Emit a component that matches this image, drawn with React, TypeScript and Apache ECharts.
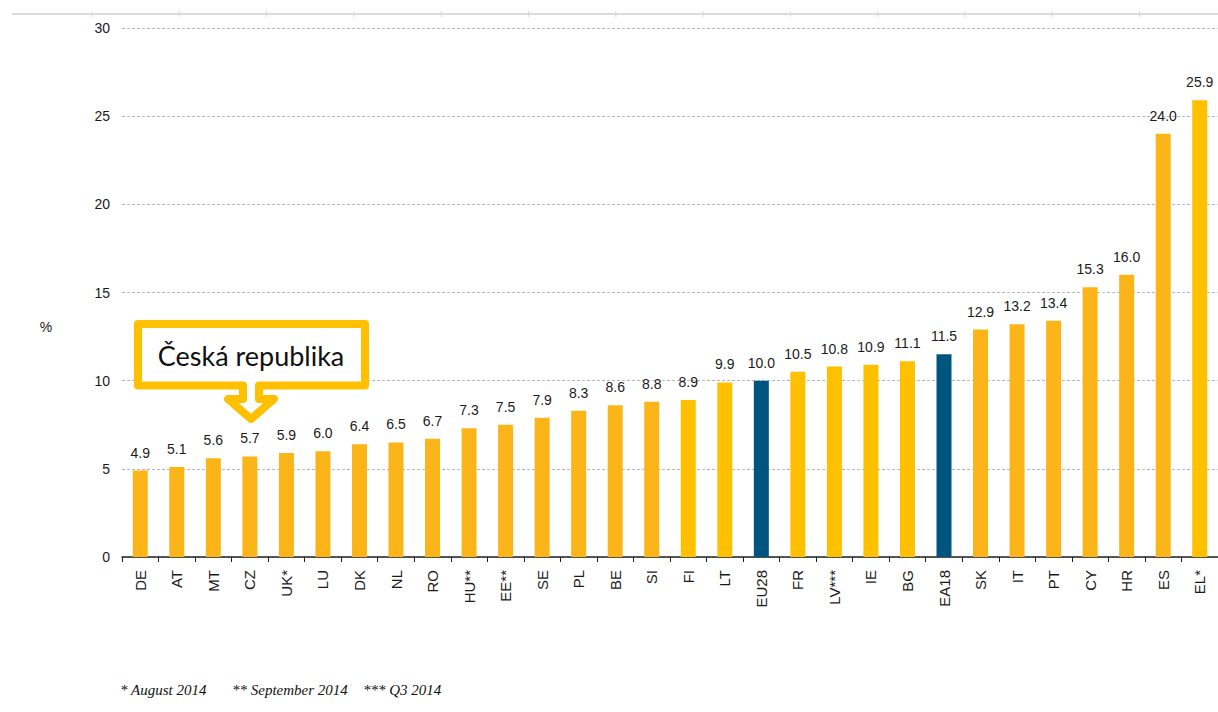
import React, { useEffect, useRef } from "react";
import * as echarts from "echarts";

const categories = ["DE", "AT", "MT", "CZ", "UK*", "LU", "DK", "NL", "RO", "HU**", "EE**", "SE", "PL", "BE", "SI", "FI", "LT", "EU28", "FR", "LV***", "IE", "BG", "EA18", "SK", "IT", "PT", "CY", "HR", "ES", "EL*"];
const values = [4.9, 5.1, 5.6, 5.7, 5.9, 6.0, 6.4, 6.5, 6.7, 7.3, 7.5, 7.9, 8.3, 8.6, 8.8, 8.9, 9.9, 10.0, 10.5, 10.8, 10.9, 11.1, 11.5, 12.9, 13.2, 13.4, 15.3, 16.0, 24.0, 25.9];
// o = orange, y = yellow, n = navy (EU aggregates)
const colorKeys = ["o", "o", "o", "o", "o", "o", "o", "o", "o", "o", "o", "o", "o", "o", "o", "y", "y", "n", "y", "y", "y", "y", "n", "o", "o", "o", "o", "o", "o", "y"];
const palette: Record<string, string> = { o: "#FBB519", y: "#FFC000", n: "#005580" };
const footnotes = ["* August 2014", "** September 2014", "*** Q3 2014"];
const calloutText = "Česká republika";

const SANS = "'Liberation Sans', Arial, sans-serif";

export default function App() {
  const ref = useRef<HTMLDivElement>(null);
  useEffect(() => {
    if (!ref.current) return;
    const chart = echarts.init(ref.current, null, { renderer: "svg" });
    const topTicks: any[] = [];
    for (let k = 0; k <= 12; k++) {
      const x = 92 + 87.3 * k;
      topTicks.push({ type: "line", shape: { x1: x, y1: 11, x2: x, y2: 17 }, style: { stroke: "#d8d8d8", lineWidth: 1 } });
    }
    const footX = [120, 232, 363];
    chart.setOption({
      animation: false,
      backgroundColor: "#fff",
      grid: { left: 122, right: 0, top: 28, bottom: 155, containLabel: false },
      xAxis: {
        type: "category",
        data: categories,
        boundaryGap: true,
        axisLine: { show: true, lineStyle: { color: "#222", width: 1.5 } },
        axisTick: { show: true, length: 5, lineStyle: { color: "#222", width: 1 } },
        axisLabel: { rotate: 90, interval: 0, margin: 13, fontFamily: SANS, fontSize: 15, color: "#1a1a1a" },
      },
      yAxis: {
        type: "value",
        min: 0,
        max: 30,
        interval: 5,
        axisLine: { show: false },
        axisTick: { show: false },
        axisLabel: { margin: 12, fontFamily: SANS, fontSize: 14, color: "#1a1a1a" },
        splitLine: { show: true, lineStyle: { color: "#b8b8b8", type: [3, 2], width: 1 } },
      },
      series: [
        {
          type: "bar",
          barWidth: 15,
          data: values.map((v, i) => ({ value: v, itemStyle: { color: palette[colorKeys[i]] } })),
          label: {
            show: true,
            position: "top",
            distance: 11,
            formatter: (p: any) => Number(p.value).toFixed(1),
            fontFamily: SANS,
            fontSize: 14,
            color: "#1a1a1a",
          },
        },
      ],
      graphic: [
        { type: "line", shape: { x1: 12, y1: 14, x2: 1218, y2: 14 }, style: { stroke: "#dcdcdc", lineWidth: 2 } },
        ...topTicks,
        { type: "text", x: 46, y: 327, style: { text: "%", font: "14px 'Liberation Sans', Arial, sans-serif", fill: "#1a1a1a", textAlign: "center", textVerticalAlign: "middle" } },
        {
          type: "polygon",
          z: 100,
          shape: {
            points: [
              [138, 324], [365, 324], [365, 385.5], [259, 385.5], [259, 399], [274, 399],
              [251, 419], [228, 399], [243, 399], [243, 385.5], [138, 385.5],
            ],
          },
          style: { fill: "#ffffff", stroke: "#FFC000", lineWidth: 8, lineJoin: "round" },
        },
        { type: "text", z: 101, x: 251, y: 355, style: { text: calloutText, font: "27px Lato, 'Open Sans', sans-serif", fill: "#111", textAlign: "center", textVerticalAlign: "middle" } },
        ...footnotes.map((t, i) => ({
          type: "text",
          x: footX[i],
          y: 690,
          style: { text: t, font: "italic 15px 'Liberation Serif', 'Times New Roman', serif", fill: "#111", textAlign: "left", textVerticalAlign: "middle" },
        })),
      ],
    });
    return () => chart.dispose();
  }, []);
  return <div ref={ref} style={{ position: "absolute", left: 0, top: 0, width: 1218, height: 712 }} />;
}
